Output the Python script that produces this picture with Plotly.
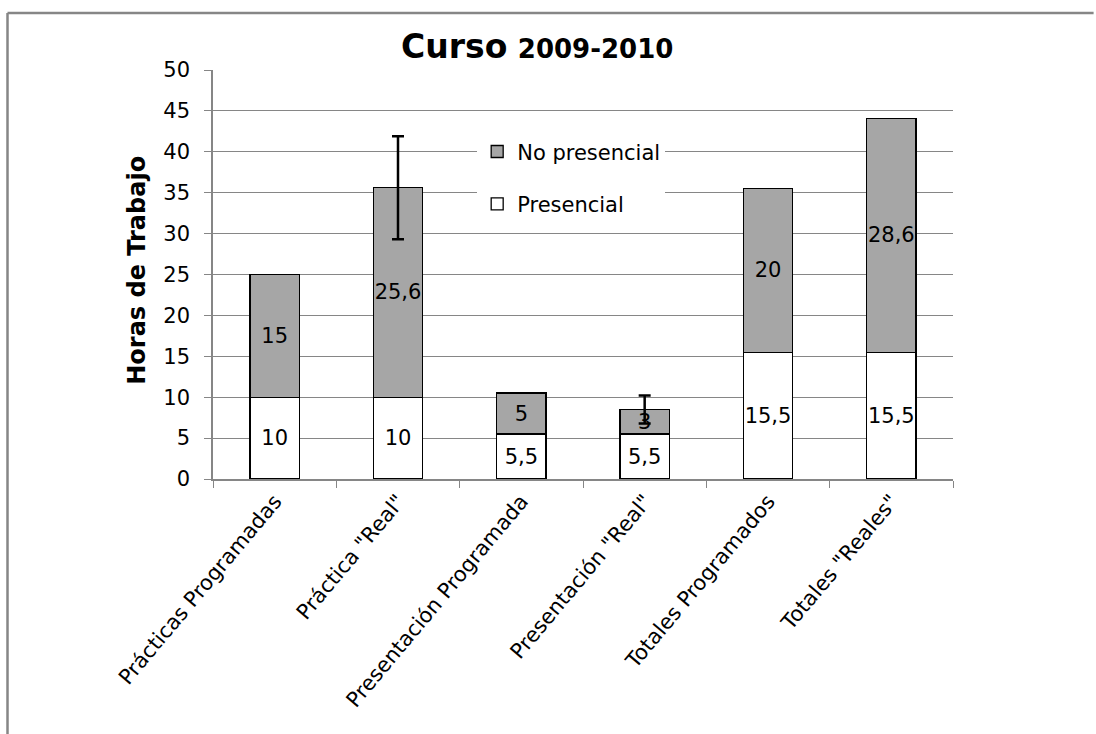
import plotly.graph_objects as go

categories = ["Prácticas Programadas", "Práctica \"Real\"", "Presentación Programada",
              "Presentación \"Real\"", "Totales Programados", "Totales \"Reales\""]
presencial = [10, 10, 5.5, 5.5, 15.5, 15.5]
no_presencial = [15, 25.6, 5, 3, 20, 28.6]
err_categories = ["Práctica \"Real\"", "Presentación \"Real\""]
err_values = [6.3, 1.7]
y_ticks = list(range(0, 51, 5))

def lab(v):
    return ("%g" % v).replace(".", ",")

FONT = "DejaVu Sans, sans-serif"

totals = {c: p + n for c, p, n in zip(categories, presencial, no_presencial)}

fig = go.Figure()
fig.add_trace(go.Bar(
    x=categories, y=presencial, name="Presencial", legendgroup="a", legendrank=2,
    marker=dict(color="white", line=dict(color="black", width=1.3)),
    text=[lab(v) for v in presencial], textposition="inside", textangle=0,
    insidetextanchor="middle", constraintext="none",
    textfont=dict(size=21, color="black", family=FONT), width=0.4,
))
fig.add_trace(go.Bar(
    x=categories, y=no_presencial, name="No presencial", legendgroup="b", legendrank=1,
    marker=dict(color="#A6A6A6", line=dict(color="black", width=1.3)),
    text=[lab(v) for v in no_presencial], textposition="inside", textangle=0,
    insidetextanchor="middle", constraintext="none",
    textfont=dict(size=21, color="black", family=FONT), width=0.4,
))
fig.add_trace(go.Scatter(
    x=err_categories, y=[totals[c] for c in err_categories], mode="markers",
    marker=dict(size=1, opacity=0), showlegend=False, hoverinfo="skip",
    error_y=dict(type="data", array=err_values, visible=True, color="black",
                 thickness=2.5, width=6),
))

fig.update_layout(
    barmode="stack",
    width=1096, height=734,
    margin=dict(l=213, r=143, t=70, b=255),
    paper_bgcolor="white", plot_bgcolor="white",
    font=dict(family=FONT, size=19, color="black"),
    showlegend=True,
    legend=dict(x=0.357, y=0.85, xanchor="left", yanchor="top",
                traceorder="grouped", tracegroupgap=22,
                bgcolor="white", font=dict(size=21, family=FONT)),
    xaxis=dict(tickangle=-50, showline=True, linecolor="#868686", linewidth=1.5,
               ticks="outside", tickson="boundaries", ticklen=7, tickcolor="#868686",
               tickfont=dict(size=21, family=FONT), showgrid=False),
    yaxis=dict(range=[0, 50], tickvals=y_ticks, showline=True, linecolor="#868686",
               linewidth=1.5, ticks="outside", ticklen=7, tickcolor="#868686",
               ticklabelstandoff=10,
               showgrid=True, gridcolor="#868686", gridwidth=1,
               tickfont=dict(size=21, family=FONT), zeroline=False),
    annotations=[
        dict(text="<b>Curso</b> <b><span style='font-size:26px'>2009-2010</span></b>",
             xref="paper", yref="paper", x=0.438, y=1.058, showarrow=False,
             font=dict(size=33, family=FONT), xanchor="center", yanchor="middle"),
        dict(text="<b>Horas de Trabajo</b>", xref="paper", yref="paper",
             x=-0.103, y=0.511, showarrow=False, textangle=-90,
             font=dict(size=24, family=FONT), xanchor="center", yanchor="middle"),
    ],
    shapes=[
        dict(type="line", xref="paper", yref="paper",
             x0=-0.2777, x1=1.19, y0=1.1394, y1=1.1394,
             line=dict(color="#868686", width=2.5), layer="below"),
        dict(type="line", xref="paper", yref="paper",
             x0=-0.2777, x1=-0.2777, y0=-0.64, y1=1.1394,
             line=dict(color="#868686", width=2.5), layer="below"),
    ],
)

fig.write_html("out.html")
